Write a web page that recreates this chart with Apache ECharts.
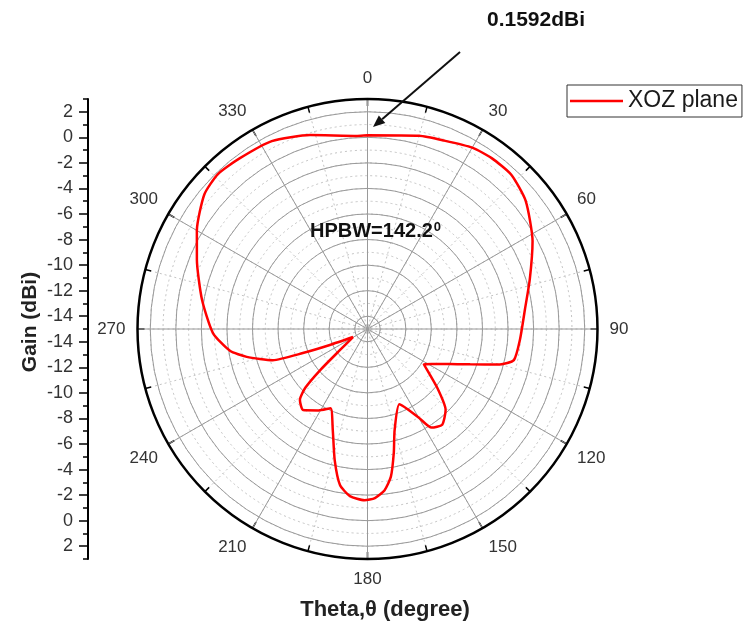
<!DOCTYPE html>
<html>
<head>
<meta charset="utf-8">
<script src="https://cdn.jsdelivr.net/npm/echarts@6/dist/echarts.min.js"></script>
<style>
html,body{margin:0;padding:0;background:#fff;}
#chart{width:749px;height:628px;}
</style>
</head>
<body>
<div id="chart"></div>
<script>
// ---- data ----
var thetaDeg = [0, 15, 22, 30, 36, 43, 51, 62, 73, 83, 94, 102, 105, 109, 113, 117.5, 122,
  130, 136, 142, 147, 150, 157, 165, 168, 171, 174, 177.5, 181, 186, 190, 194, 199, 205,
  211, 218.5, 223.6, 226.6, 229, 232.6, 241, 247, 249.6, 251.8, 257, 261, 268.5, 280,
  292, 300, 309.5, 316, 323, 333, 343.5, 357, 360];
var gainDbi = [0.16, 0.65, 0.91, 1.39, 1.53, 1.5, 0.93, -0.37, -1.72, -2.59, -3.04, -3.29, -4.28, -6.5, -8.0, -9.05, -9.8,
  -7.9, -6.2, -5.5, -5.8, -7.0, -8.6, -6.8, -5.1, -3.3, -2.3, -1.76, -1.6, -1.85, -2.6, -4.4, -6.65, -8.16,
  -7.57, -6.9, -7.33, -8.3, -10.1, -12.3, -13.7, -11.8, -9.6, -7.2, -5.3, -4.1, -2.9, -1.85,
  -0.6, 0.42, 1.55, 1.85, 1.69, 1.5, 0.83, 0.13, 0.16];
var seriesName = 'XOZ plane';
var gainMin = -15, gainMax = 3;
var gainMajorTicks = [-14, -12, -10, -8, -6, -4, -2, 0, 2];
var gainMinorTicks = [-15, -13, -11, -9, -7, -5, -3, -1, 1, 3];
var angleTickLabels = [0, 30, 60, 90, 120, 150, 180, 210, 240, 270, 300, 330];

var pts = thetaDeg.map(function (t, i) { return [gainDbi[i], t]; });

var CX = 367.5, CY = 329, R = 230;
var FONT = '"Liberation Sans", Arial, sans-serif';

function yAx(grid, inverse, major) {
  var o = {
    type: 'value', gridIndex: grid, min: gainMin, max: gainMax, inverse: inverse,
    position: 'left', splitLine: { show: false },
    axisLine: { show: !major, lineStyle: { color: '#000', width: 2 } }
  };
  if (major) {
    o.axisTick = { show: true, length: 9, customValues: gainMajorTicks, lineStyle: { color: '#000', width: 1.5 } };
    o.axisLabel = { show: true, customValues: gainMajorTicks, fontSize: 18, color: '#333', margin: 15, fontFamily: FONT };
  } else {
    o.axisTick = { show: true, length: 5, customValues: gainMinorTicks, lineStyle: { color: '#000', width: 1.5 } };
    o.axisLabel = { show: false };
  }
  return o;
}

var chart = echarts.init(document.getElementById('chart'), null, { renderer: 'canvas' });
var option = {
  animation: false,
  backgroundColor: '#fff',
  legend: {
    data: [seriesName], left: 567, top: 85, orient: 'horizontal', icon: 'rect',
    backgroundColor: '#fff', borderColor: '#333', borderWidth: 1, borderRadius: 0,
    padding: [4, 4, 4, 3], itemWidth: 53, itemHeight: 2.5,
    textStyle: { fontSize: 23, color: '#1a1a1a', fontFamily: FONT, lineHeight: 24 }
  },
  grid: [
    { left: 88, top: 99, width: 10, height: 230, show: false },
    { left: 88, top: 329, width: 10, height: 230, show: false }
  ],
  xAxis: [
    { type: 'value', gridIndex: 0, show: false },
    { type: 'value', gridIndex: 1, show: false }
  ],
  yAxis: [yAx(0, false, false), yAx(0, false, true), yAx(1, true, false), yAx(1, true, true)],
  polar: [
    { center: [CX, CY], radius: R },
    { center: [CX, CY], radius: R }
  ],
  angleAxis: [
    {
      polarIndex: 0, type: 'value', min: 0, max: 360, interval: 15, startAngle: 90, clockwise: true, z: 1,
      axisLine: { show: false }, axisTick: { show: false }, axisLabel: { show: false },
      splitLine: { show: true, lineStyle: { color: '#c4c4c4', width: 1, type: [2, 3] } }
    },
    {
      polarIndex: 1, type: 'value', min: 0, max: 360, interval: 30, startAngle: 90, clockwise: true, z: 3,
      axisLine: { show: true, lineStyle: { color: '#000', width: 2.5 } },
      axisTick: { show: true, inside: true, length: 7, lineStyle: { color: '#000', width: 1.5 } },
      minorTick: { show: true, splitNumber: 2, length: 6, lineStyle: { color: '#000', width: 1.5 } },
      axisLabel: {
        show: true, fontSize: 17, color: '#333', margin: 12, fontFamily: FONT,
        customValues: angleTickLabels
      },
      splitLine: { show: true, lineStyle: { color: '#9a9a9a', width: 1 } }
    }
  ],
  radiusAxis: [
    {
      polarIndex: 0, type: 'value', min: gainMin, max: gainMax, interval: 1, z: 1,
      axisLine: { show: false }, axisTick: { show: false }, axisLabel: { show: false },
      splitLine: { show: true, lineStyle: { color: '#c4c4c4', width: 1, type: [2, 3] } }
    },
    {
      polarIndex: 1, type: 'value', min: gainMin, max: gainMax, z: 2,
      axisLine: { show: false },
      axisTick: { show: false, customValues: gainMajorTicks },
      axisLabel: { show: false, customValues: gainMajorTicks },
      splitLine: { show: true, lineStyle: { color: '#9a9a9a', width: 1 } }
    }
  ],
  series: [{
    name: seriesName, type: 'line', coordinateSystem: 'polar', polarIndex: 1,
    data: pts, symbol: 'none', smooth: 0.2, z: 10,
    lineStyle: { color: '#ff0000', width: 2.5 }, itemStyle: { color: '#ff0000' }
  }],
  graphic: [
    {
      type: 'text', z: 20, x: 30, y: 322, rotation: Math.PI / 2,
      style: { text: 'Gain (dBi)', font: 'bold 21px ' + FONT, fill: '#222', align: 'center', verticalAlign: 'middle' }
    },
    {
      type: 'text', z: 20, x: 385, y: 610,
      style: { text: 'Theta,\u03b8 (degree)', font: 'bold 22px ' + FONT, fill: '#222', align: 'center', verticalAlign: 'middle' }
    },
    {
      type: 'text', z: 20, x: 487, y: 20,
      style: { text: '0.1592dBi', font: 'bold 21px ' + FONT, fill: '#111', align: 'left', verticalAlign: 'middle' }
    },
    {
      type: 'text', z: 20, x: 310, y: 231,
      style: {
        text: '{m|HPBW=142.2}{s|0}', align: 'left', verticalAlign: 'middle',
        rich: {
          m: { font: 'bold 20px ' + FONT, fill: '#111' },
          s: { font: 'bold 13px ' + FONT, fill: '#111', verticalAlign: 'top', padding: [0, 0, 8, 1] }
        }
      }
    },
    {
      type: 'line', z: 20,
      shape: { x1: 460, y1: 52, x2: 382.1, y2: 119.2 },
      style: { stroke: '#111', lineWidth: 2 }
    },
    {
      type: 'polygon', z: 20,
      shape: { points: [[373, 127], [385.3, 123.0], [378.8, 115.4]] },
      style: { fill: '#111' }
    }
  ]
};
chart.setOption(option);
</script>
</body>
</html>
